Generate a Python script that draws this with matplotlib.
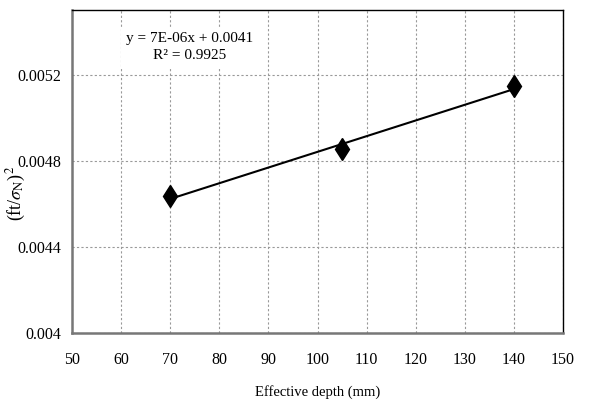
import matplotlib
matplotlib.use("Agg")
import matplotlib.pyplot as plt
import numpy as np

plt.rcParams['font.family'] = ['Liberation Serif', 'DejaVu Serif']
plt.rcParams['mathtext.fontset'] = 'stix'

depth = [70, 105, 140]
ratio = [0.004635, 0.004853, 0.005145]
xticks = [50, 60, 70, 80, 90, 100, 110, 120, 130, 140, 150]
yticks = [0.004, 0.0044, 0.0048, 0.0052]
ytick_labels = ["0.004", "0.0044", "0.0048", "0.0052"]

fig = plt.figure(figsize=(6.14, 4.01), dpi=100)
ax = fig.add_axes([72/614, 1-333/401, (563-72)/614, (333-10)/401])

slope, intercept = np.polyfit(depth, ratio, 1)
xs = np.array([min(depth), max(depth)])
ax.plot(xs, slope*xs + intercept, color='black', lw=1.5, zorder=3)
ax.plot(depth, ratio, linestyle='none', marker='d', color='black',
        markersize=11.5, zorder=4)

ax.set_xlim(50, 150)
ax.set_ylim(0.004, 0.0055)
ax.set_xticks(xticks)
ax.set_xticklabels([str(t) for t in xticks])
ax.set_yticks(yticks)
ax.set_yticklabels(ytick_labels)
ax.tick_params(axis='x', length=0, labelsize=11.5, pad=14)
ax.tick_params(axis='y', length=0, labelsize=11.5, pad=8)
ax.grid(True, color='#999999', linestyle=(0, (2, 2)), lw=0.8)
ax.set_axisbelow(True)

for s in ['left', 'bottom']:
    ax.spines[s].set_color('#777777')
    ax.spines[s].set_linewidth(1.8)
for s in ['top', 'right']:
    ax.spines[s].set_color('black')
    ax.spines[s].set_linewidth(1.0)

ax.set_xlabel('Effective depth (mm)', fontsize=10.5, va='center')
ax.xaxis.set_label_coords(0.5, (333-392)/323)
ax.set_ylabel(r'(ft/$\sigma_{\mathrm{N}}$)$^{2}$', fontsize=13, va='center')
ax.yaxis.set_label_coords((16-72)/491, (333-193)/323)

ax.text(0.24, 0.885, 'y = 7E-06x + 0.0041\nR² = 0.9925', transform=ax.transAxes,
        ha='center', va='center', fontsize=11, linespacing=1.4,
        bbox=dict(facecolor='white', edgecolor='none', pad=4), zorder=5)

fig.savefig('out.png', dpi=100)
